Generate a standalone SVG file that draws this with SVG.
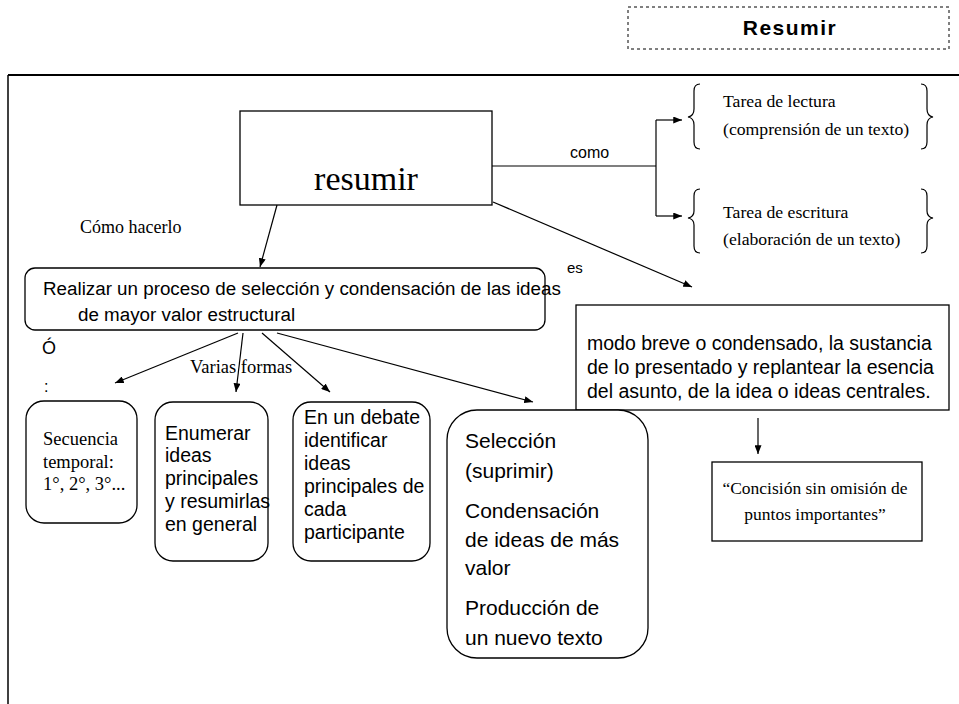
<svg xmlns="http://www.w3.org/2000/svg" width="959" height="704" viewBox="0 0 959 704">
<defs>
<style>
.sans{font-family:"Liberation Sans",Arial,sans-serif;fill:#000}
.serif{font-family:"Liberation Serif","Times New Roman",serif;fill:#000}
.box{fill:#fff;stroke:#000;stroke-width:1.3}
.ln{fill:none;stroke:#000;stroke-width:1.2}
</style>
<marker id="ah" viewBox="0 0 10 8" refX="10" refY="4" markerWidth="9" markerHeight="7" markerUnits="userSpaceOnUse" orient="auto">
<path d="M0,0 L10,4 L0,8 Z" fill="#000"/>
</marker>
</defs>
<rect width="959" height="704" fill="#fff"/>

<g id="title">
<rect x="628" y="7" width="321" height="42" fill="none" stroke="#000" stroke-width="1" stroke-dasharray="3,3"/>
<text x="790" y="35" text-anchor="middle" class="sans" font-size="21" font-weight="bold" letter-spacing="1.5">Resumir</text>
</g>

<g id="frame">
<line x1="8" y1="75" x2="959" y2="75" stroke="#000" stroke-width="1.8"/>
<line x1="8" y1="75" x2="8" y2="704" stroke="#000" stroke-width="1.5"/>
</g>

<g id="connectors">
<polyline class="ln" points="492,166 656,166"/>
<polyline class="ln" points="656,120 656,216"/>
<line class="ln" x1="656" y1="120" x2="682" y2="120" marker-end="url(#ah)"/>
<line class="ln" x1="656" y1="216" x2="682" y2="216" marker-end="url(#ah)"/>
<line class="ln" x1="493" y1="202" x2="692" y2="287" marker-end="url(#ah)"/>
<line class="ln" x1="277" y1="205" x2="260" y2="267" marker-end="url(#ah)"/>
<line class="ln" x1="238" y1="333" x2="115" y2="383" marker-end="url(#ah)"/>
<line class="ln" x1="243" y1="333" x2="236" y2="392" marker-end="url(#ah)"/>
<line class="ln" x1="262" y1="333" x2="330" y2="392" marker-end="url(#ah)"/>
<line class="ln" x1="277" y1="333" x2="533" y2="402" marker-end="url(#ah)"/>
<line class="ln" x1="758" y1="418" x2="758" y2="454" marker-end="url(#ah)"/>
<text x="570" y="158" class="sans" font-size="16">como</text>
<text x="567" y="273" class="sans" font-size="15">es</text>
<text x="80" y="233" class="serif" font-size="18">Cómo hacerlo</text>
<text x="190" y="373" class="serif" font-size="18.5">Varias formas</text>
<text x="42" y="354" class="sans" font-size="18">Ó</text>
<text x="44" y="392" class="sans" font-size="16">:</text>
</g>

<g id="resumir">
<rect class="box" x="240" y="111" width="252" height="94"/>
<text x="366" y="190" text-anchor="middle" class="serif" font-size="34">resumir</text>
</g>

<g id="lectura">
<path class="ln" d="M700,84 Q694,84 694,91 L694,109 Q694,116 688,117 Q694,118 694,125 L694,142 Q694,149 700,149"/>
<path class="ln" d="M921,84 Q927,84 927,91 L927,109 Q927,116 933,117 Q927,118 927,125 L927,142 Q927,149 921,149"/>
<text x="723" y="107" class="serif" font-size="17.7">Tarea de lectura</text>
<text x="723" y="135" class="serif" font-size="17.7">(comprensión de un texto)</text>
</g>

<g id="escritura">
<path class="ln" d="M700,189 Q694,189 694,196 L694,211 Q694,217 688,218 Q694,219 694,225 L694,246 Q694,253 700,253"/>
<path class="ln" d="M921,189 Q927,189 927,196 L927,211 Q927,217 933,218 Q927,219 927,225 L927,246 Q927,253 921,253"/>
<text x="723" y="218" class="serif" font-size="17.7">Tarea de escritura</text>
<text x="723" y="245" class="serif" font-size="17.7">(elaboración de un texto)</text>
</g>

<g id="realizar">
<rect class="box" x="25" y="268" width="520" height="62" rx="10"/>
<text x="43" y="295" class="sans" font-size="18.8">Realizar un proceso de selección y condensación de las ideas</text>
<text x="78" y="321" class="sans" font-size="18.8">de mayor valor estructural</text>
</g>

<g id="modo">
<rect class="box" x="576" y="305" width="373" height="105"/>
<text x="587" y="350" class="sans" font-size="19.5">modo breve o condensado, la sustancia</text>
<text x="587" y="374" class="sans" font-size="19.5">de lo presentado y replantear la esencia</text>
<text x="587" y="398" class="sans" font-size="19.5">del asunto, de la idea o ideas centrales.</text>
</g>

<g id="concision">
<rect class="box" x="712" y="462" width="210" height="79"/>
<text x="815" y="494" text-anchor="middle" class="serif" font-size="17.5">“Concisión sin omisión de</text>
<text x="815" y="520" text-anchor="middle" class="serif" font-size="17.5">puntos importantes”</text>
</g>

<g id="secuencia">
<rect class="box" x="26" y="401" width="111" height="122" rx="18"/>
<text x="43" y="445" class="serif" font-size="18.5">Secuencia</text>
<text x="43" y="468" class="serif" font-size="18.5">temporal:</text>
<text x="43" y="490" class="serif" font-size="18.5">1°, 2°, 3°...</text>
</g>

<g id="enumerar">
<rect class="box" x="155" y="402" width="113" height="159" rx="18"/>
<text x="165" y="440" class="sans" font-size="19.5">Enumerar</text>
<text x="165" y="462" class="sans" font-size="19.5">ideas</text>
<text x="165" y="485" class="sans" font-size="19.5">principales</text>
<text x="165" y="508" class="sans" font-size="19.5">y resumirlas</text>
<text x="165" y="531" class="sans" font-size="19.5">en general</text>
</g>

<g id="debate">
<rect class="box" x="293" y="402" width="137" height="159" rx="18"/>
<text x="304" y="424" class="sans" font-size="19.5">En un debate</text>
<text x="304" y="447" class="sans" font-size="19.5">identificar</text>
<text x="304" y="470" class="sans" font-size="19.5">ideas</text>
<text x="304" y="493" class="sans" font-size="19.5">principales de</text>
<text x="304" y="516" class="sans" font-size="19.5">cada</text>
<text x="304" y="539" class="sans" font-size="19.5">participante</text>
</g>

<g id="seleccion">
<rect class="box" x="447" y="410" width="201" height="248" rx="30"/>
<text x="465" y="448" class="sans" font-size="21">Selección</text>
<text x="465" y="478" class="sans" font-size="21">(suprimir)</text>
<text x="465" y="518" class="sans" font-size="21">Condensación</text>
<text x="465" y="547" class="sans" font-size="21">de ideas de más</text>
<text x="465" y="575" class="sans" font-size="21">valor</text>
<text x="465" y="615" class="sans" font-size="21">Producción de</text>
<text x="465" y="645" class="sans" font-size="21">un nuevo texto</text>
</g>
</svg>
